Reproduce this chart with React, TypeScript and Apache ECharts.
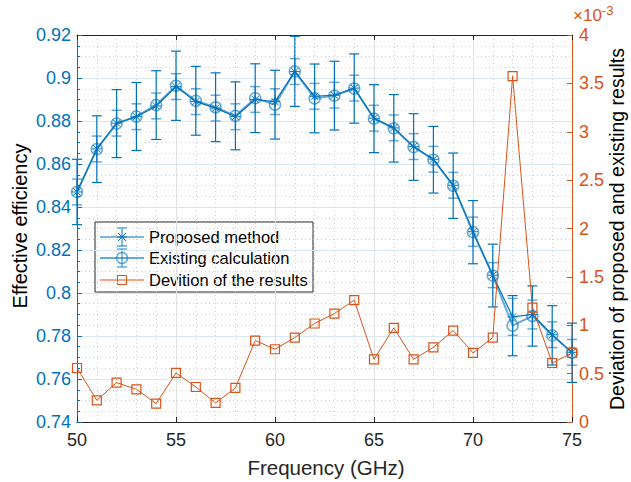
import React, { useEffect, useRef } from "react";
import * as echarts from "echarts";

const frequency = [50, 51, 52, 53, 54, 55, 56, 57, 58, 59, 60, 61, 62, 63, 64, 65, 66, 67, 68, 69, 70, 71, 72, 73, 74, 75];
const proposed = [0.847, 0.867, 0.879, 0.882, 0.887, 0.896, 0.889, 0.886, 0.882, 0.890, 0.889, 0.903, 0.8915, 0.892, 0.8953, 0.8813, 0.8768, 0.8681, 0.8622, 0.8501, 0.8285, 0.8083, 0.7889, 0.790, 0.7806, 0.7724];
const existing = [0.847, 0.8669, 0.8788, 0.8821, 0.8874, 0.8964, 0.8894, 0.8864, 0.8824, 0.8906, 0.8876, 0.9031, 0.8905, 0.8918, 0.8951, 0.8811, 0.8766, 0.8679, 0.862, 0.8499, 0.8283, 0.8081, 0.7848, 0.7893, 0.7803, 0.7722];
const existingErr = [0.0152, 0.0155, 0.0158, 0.0158, 0.016, 0.0161, 0.016, 0.016, 0.0158, 0.016, 0.016, 0.0163, 0.016, 0.016, 0.0161, 0.0158, 0.0157, 0.0155, 0.0155, 0.0152, 0.0147, 0.0146, 0.014, 0.014, 0.0138, 0.0138];
const proposedErr = [0.006, 0.006, 0.006, 0.006, 0.006, 0.006, 0.006, 0.006, 0.006, 0.006, 0.006, 0.006, 0.006, 0.006, 0.006, 0.006, 0.006, 0.006, 0.006, 0.006, 0.0068, 0.0058, 0.0086, 0.0067, 0.006, 0.006];
const deviation = [0.558, 0.224, 0.407, 0.338, 0.19, 0.507, 0.362, 0.197, 0.352, 0.842, 0.752, 0.873, 1.018, 1.121, 1.259, 0.648, 0.972, 0.648, 0.772, 0.945, 0.714, 0.873, 3.575, 1.183, 0.61, 0.714];
const seriesNames = ["Proposed method", "Existing calculation", "Devition of the results"];

const BLUE = "#0072BD";
const BLUE_LIGHT = "rgba(0,114,189,0.6)";
const ORANGE = "#D95319";
const FONT = "'Liberation Sans', Arial, Helvetica, sans-serif";
const ASTERISK = "path://M5,0L5,10M0,5L10,5M1.5,1.5L8.5,8.5M1.5,8.5L8.5,1.5";

function errRender(color: string, width: number) {
  return (params: any, api: any) => {
    const x = api.value(0);
    const y = api.value(1);
    const e = api.value(2);
    const hi = api.coord([x, y + e]);
    const lo = api.coord([x, y - e]);
    const c = 5;
    const st = { stroke: color, lineWidth: width };
    return {
      type: "group",
      children: [
        { type: "line", shape: { x1: hi[0], y1: hi[1], x2: lo[0], y2: lo[1] }, style: st },
        { type: "line", shape: { x1: hi[0] - c, y1: hi[1], x2: hi[0] + c, y2: hi[1] }, style: st },
        { type: "line", shape: { x1: lo[0] - c, y1: lo[1], x2: lo[0] + c, y2: lo[1] }, style: st },
      ],
    };
  };
}

export default function App() {
  const ref = useRef<HTMLDivElement>(null);
  useEffect(() => {
    if (!ref.current) return;
    const chart = echarts.init(ref.current, null, { renderer: "svg" });
    const fmt = (v: number) => String(parseFloat(v.toFixed(3)));

    const legendX = 95, legendY = 222;
    const rowY = [237, 258, 280];
    const legend: any = {
      type: "group",
      children: [
        { type: "rect", shape: { x: legendX, y: legendY, width: 218, height: 70 }, style: { fill: "#fff", stroke: "#262626", lineWidth: 1 } },
        { type: "line", shape: { x1: 100, y1: rowY[0], x2: 144, y2: rowY[0] }, style: { stroke: BLUE, lineWidth: 1 } },
        { type: "line", shape: { x1: 122, y1: rowY[0] - 9, x2: 122, y2: rowY[0] + 9 }, style: { stroke: BLUE, lineWidth: 1 } },
        { type: "line", shape: { x1: 117, y1: rowY[0] - 9, x2: 127, y2: rowY[0] - 9 }, style: { stroke: BLUE, lineWidth: 1 } },
        { type: "line", shape: { x1: 117, y1: rowY[0] + 9, x2: 127, y2: rowY[0] + 9 }, style: { stroke: BLUE, lineWidth: 1 } },
        { type: "line", shape: { x1: 118, y1: rowY[0] - 4, x2: 126, y2: rowY[0] + 4 }, style: { stroke: BLUE, lineWidth: 1 } },
        { type: "line", shape: { x1: 118, y1: rowY[0] + 4, x2: 126, y2: rowY[0] - 4 }, style: { stroke: BLUE, lineWidth: 1 } },
        { type: "line", shape: { x1: 117, y1: rowY[0], x2: 127, y2: rowY[0] }, style: { stroke: BLUE, lineWidth: 1 } },
        { type: "text", x: 149, y: rowY[0], style: { text: seriesNames[0], fontSize: 16.5, fontFamily: FONT, fill: "#000", verticalAlign: "middle" } },
        { type: "line", shape: { x1: 100, y1: rowY[1], x2: 144, y2: rowY[1] }, style: { stroke: BLUE_LIGHT, lineWidth: 2 } },
        { type: "line", shape: { x1: 122, y1: rowY[1] - 9, x2: 122, y2: rowY[1] + 9 }, style: { stroke: BLUE_LIGHT, lineWidth: 1.5 } },
        { type: "line", shape: { x1: 117, y1: rowY[1] - 9, x2: 127, y2: rowY[1] - 9 }, style: { stroke: BLUE_LIGHT, lineWidth: 1.5 } },
        { type: "line", shape: { x1: 117, y1: rowY[1] + 9, x2: 127, y2: rowY[1] + 9 }, style: { stroke: BLUE_LIGHT, lineWidth: 1.5 } },
        { type: "circle", shape: { cx: 122, cy: rowY[1], r: 5.5 }, style: { fill: "none", stroke: BLUE_LIGHT, lineWidth: 1.5 } },
        { type: "text", x: 149, y: rowY[1], style: { text: seriesNames[1], fontSize: 16.5, fontFamily: FONT, fill: "#000", verticalAlign: "middle" } },
        { type: "line", shape: { x1: 100, y1: rowY[2], x2: 144, y2: rowY[2] }, style: { stroke: ORANGE, lineWidth: 1 } },
        { type: "rect", shape: { x: 117.5, y: rowY[2] - 4.5, width: 9, height: 9 }, style: { fill: "none", stroke: ORANGE, lineWidth: 1 } },
        { type: "text", x: 149, y: rowY[2], style: { text: seriesNames[2], fontSize: 16.5, fontFamily: FONT, fill: "#000", verticalAlign: "middle" } },
      ],
    };

    const option: any = {
      animation: false,
      backgroundColor: "#fff",
      grid: { left: 77, right: 59, top: 35, bottom: 60, containLabel: false },
      xAxis: [
        {
          type: "value", min: 50, max: 75, interval: 5,
          axisLine: { show: true, lineStyle: { color: "#262626", width: 1 } },
          axisTick: { show: true, inside: true, length: 5, lineStyle: { color: "#262626" } },
          minorTick: { show: false },
          axisLabel: { color: "#262626", fontSize: 18, fontFamily: FONT, margin: 9 },
          splitLine: { show: true, lineStyle: { color: "#e2e2e2", width: 1 } },
          minorSplitLine: { show: true, lineStyle: { color: "#cfcfcf", type: [1, 3], width: 1 } },
        },
        {
          type: "value", min: 50, max: 75, interval: 5, position: "top",
          axisLine: { show: true, lineStyle: { color: "#262626", width: 1 } },
          axisTick: { show: true, inside: true, length: 5, lineStyle: { color: "#262626" } },
          axisLabel: { show: false },
          splitLine: { show: false },
        },
      ],
      yAxis: [
        {
          type: "value", min: 0.74, max: 0.92, interval: 0.02, position: "left",
          axisLine: { show: true, lineStyle: { color: BLUE, width: 1 } },
          axisTick: { show: true, inside: true, length: 5, lineStyle: { color: BLUE } },
          minorTick: { show: true, splitNumber: 4, length: 3, lineStyle: { color: BLUE } },
          axisLabel: { color: BLUE, fontSize: 18, fontFamily: FONT, margin: 6, formatter: fmt },
          splitLine: { show: true, lineStyle: { color: "#d8e7f4", width: 1 } },
          minorSplitLine: { show: true, lineStyle: { color: "#b9d3ea", type: [1, 3], width: 1 } },
        },
        {
          type: "value", min: 0, max: 4, interval: 0.5, position: "right",
          axisLine: { show: true, lineStyle: { color: ORANGE, width: 1 } },
          axisTick: { show: true, inside: true, length: 5, lineStyle: { color: ORANGE } },
          axisLabel: { color: ORANGE, fontSize: 18, fontFamily: FONT, margin: 7, formatter: fmt },
          splitLine: { show: false },
        },
      ],
      graphic: [
        legend,
        { type: "text", x: 20, y: 226, rotation: Math.PI / 2, style: { text: "Effective efficiency", fontSize: 20, fontFamily: FONT, fill: "#000", align: "center", verticalAlign: "middle" } },
        { type: "text", x: 617, y: 229, rotation: Math.PI / 2, style: { text: "Deviation of proposed and existing results", fontSize: 19.5, fontFamily: FONT, fill: "#000", align: "center", verticalAlign: "middle" } },
        { type: "text", x: 326, y: 467, style: { text: "Frequency (GHz)", fontSize: 20.5, fontFamily: FONT, fill: "#262626", align: "center", verticalAlign: "middle" } },
        { type: "text", x: 573, y: 15, style: { text: "{a|×10}{b|-3}", rich: { a: { fontSize: 17, fontFamily: FONT, fill: ORANGE }, b: { fontSize: 13, fontFamily: FONT, fill: ORANGE, verticalAlign: "top", padding: [0, 0, 9, 0] } }, verticalAlign: "middle" } },
      ],
      series: [
        {
          type: "custom", name: "existingErr", xAxisIndex: 0, yAxisIndex: 0, z: 2,
          renderItem: errRender(BLUE, 1.2),
          encode: { x: 0, y: 1 },
          data: frequency.map((f, i) => [f, existing[i], existingErr[i]]),
        },
        {
          type: "custom", name: "proposedErr", xAxisIndex: 0, yAxisIndex: 0, z: 2,
          renderItem: errRender(BLUE_LIGHT, 1.5),
          encode: { x: 0, y: 1 },
          data: frequency.map((f, i) => [f, proposed[i], proposedErr[i]]),
        },
        {
          type: "line", name: seriesNames[1], xAxisIndex: 0, yAxisIndex: 0, z: 3,
          data: frequency.map((f, i) => [f, existing[i]]),
          symbol: "circle", symbolSize: 11,
          lineStyle: { color: BLUE_LIGHT, width: 2 },
          itemStyle: { color: "rgba(0,0,0,0)", borderColor: BLUE_LIGHT, borderWidth: 1.5 },
        },
        {
          type: "line", name: seriesNames[0], xAxisIndex: 0, yAxisIndex: 0, z: 4,
          data: frequency.map((f, i) => [f, proposed[i]]),
          symbol: ASTERISK, symbolSize: 10,
          lineStyle: { color: BLUE, width: 1.2 },
          itemStyle: { color: "none", borderColor: BLUE, borderWidth: 1 },
        },
        {
          type: "line", name: seriesNames[2], xAxisIndex: 0, yAxisIndex: 1, z: 5,
          data: frequency.map((f, i) => [f, deviation[i]]),
          symbol: "rect", symbolSize: 9,
          lineStyle: { color: ORANGE, width: 1 },
          itemStyle: { color: "rgba(0,0,0,0)", borderColor: ORANGE, borderWidth: 1.2 },
        },
      ],
    };
    chart.setOption(option);
    return () => chart.dispose();
  }, []);
  return <div ref={ref} style={{ position: "fixed", left: 0, top: 0, width: 631, height: 482 }} />;
}
